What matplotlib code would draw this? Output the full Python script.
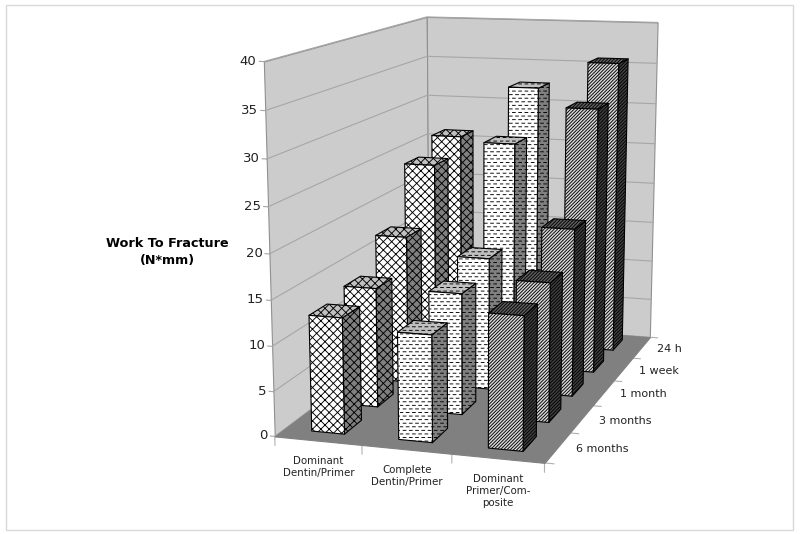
import numpy as np
import matplotlib
matplotlib.use("Agg")
import matplotlib.pyplot as plt
import matplotlib.hatch as mhatch
from matplotlib.patches import Rectangle
from matplotlib.path import Path
from mpl_toolkits.mplot3d.art3d import Poly3DCollection

categories = ["Dominant\nDentin/Primer", "Complete\nDentin/Primer", "Dominant\nPrimer/Com-\nposite"]
periods = ["6 months", "3 months", "1 month", "1 week", "24 h"]
z_ticks = [0, 5, 10, 15, 20, 25, 30, 35, 40]

# one row per period, front to back
dominant_dentin = [12.9, 13.7, 17.4, 24.1, 26.0]
complete_dentin = [11.8, 13.8, 15.5, 27.1, 32.4]
dominant_primer = [14.6, 15.7, 19.5, 31.6, 35.7]
values = [dominant_dentin, complete_dentin, dominant_primer]

hatches = ["xxxx", "O", "//////////"]
front_colors = ["white", "white", "#d8d8d8"]
top_colors = ["#c0c0c0", "#c0c0c0", "#606060"]
side_colors = ["#808080", "#808080", "#404040"]


class Dashes(mhatch.HatchPatternBase):
    """Staggered short dashes, hung on the 'O' hatch letter."""
    rows = 28
    cols = 16

    def __init__(self, hatch, density):
        self.num_vertices = self.rows * self.cols * 2 if "O" in hatch else 0

    def set_vertices_and_codes(self, vertices, codes):
        k = 0
        for r in range(self.rows):
            off = 0.5 / self.cols if r % 2 else 0.0
            for c in range(self.cols):
                x = c / self.cols + off
                y = (r + 0.5) / self.rows
                vertices[k] = (x, y)
                vertices[k + 1] = (x + 0.028, y)
                codes[k] = Path.MOVETO
                codes[k + 1] = Path.LINETO
                k += 2


mhatch._hatch_types = [t for t in mhatch._hatch_types if t is not mhatch.LargeCircles] + [Dashes]
plt.rcParams["hatch.linewidth"] = 0.65

W, H = 800, 534
fig = plt.figure(figsize=(8, 5.34), dpi=100)
# square 3d axes in pixels, the picture sits in the middle of it
ax = fig.add_axes([0, -133 / H, 1, W / H], projection="3d", computed_zorder=False)
ax.set_axis_off()
ax.set_xticks([])
ax.set_yticks([])
ax.set_zticks([])
ax.set_proj_type("ortho")  # lines get clipped to +-1 otherwise

# camera from the chart box corners: (category, period, value) -> pixel
nx, ny = len(categories), len(periods)
corners = [
    (0, 0, 0, 275, 434), (nx, 0, 0, 545, 465), (nx, ny, 0, 650, 335), (0, ny, 0, 428, 323),
    (0, 0, 40, 263, 62), (0, ny, 40, 428, 16), (nx, ny, 40, 657, 23),
]
rows = []
for x, y, z, px, py in corners:
    v = [x, y, z, 1]
    Y = H - py
    rows.append(v + [0, 0, 0, 0] + [-px * a for a in v])
    rows.append([0, 0, 0, 0] + v + [-Y * a for a in v])
P = np.linalg.svd(np.array(rows, dtype=float))[2][-1].reshape(3, 4)
if P[2, 3] < 0:
    P = -P
M = np.array([P[0], P[1], [0, 1, 0, 0], P[2]])
ax.get_proj = lambda: M
ax.viewLim.intervalx = (0, W)
ax.viewLim.intervaly = (-133, 667)


def face(verts, color, z, hatch=None, edge="k", lw=0.8):
    col = Poly3DCollection([verts], facecolors=color, edgecolors=edge, linewidths=lw, hatch=hatch, zorder=z)
    ax.add_collection3d(col)


def label_at(x, y, z, s, **kw):
    # plain 2d text at the projected spot, Text3D keeps its data position
    u = P @ np.array([x, y, z, 1.0])
    ax.text2D(u[0] / u[2], u[1] / u[2], s, transform=ax.transData, color="#222222", **kw)


# walls and floor
face([(0, 0, 0), (0, ny, 0), (0, ny, 40), (0, 0, 40)], "#cccccc", 1, edge="#909090")
face([(0, ny, 0), (nx, ny, 0), (nx, ny, 40), (0, ny, 40)], "#cccccc", 1, edge="#909090")

for t in z_ticks:
    ax.plot([0, 0, nx], [0, ny, ny], [t, t, t], color="#a6a6a6", lw=0.8, zorder=2)
    ax.plot([-0.05, 0], [0, 0], [t, t], color="#a6a6a6", lw=0.8, zorder=2)
    label_at(-0.08, 0, t, str(t), ha="right", va="center", fontsize=9.5)
for i in range(nx + 1):
    ax.plot([i, i], [0, 0], [0, -1], color="#b0b0b0", lw=0.8, zorder=2)
for j in range(ny + 1):
    ax.plot([nx, nx + 0.1], [j, j], [0, 0], color="#b0b0b0", lw=0.8, zorder=2)
face([(0, 0, 0), (nx, 0, 0), (nx, ny, 0), (0, ny, 0)], "#808080", 3, edge="#808080")

for i, label in enumerate(categories):
    label_at(i + 0.5, 0, -1.7, label, ha="center", va="top", fontsize=7.4, linespacing=1.25)
for j, label in enumerate(periods):
    label_at(nx + 0.2, j + 0.5, 0, label, ha="left", va="center", fontsize=8)

# bars, back row first and left to right so the overlaps come out right
bw, bd = 0.38, 0.5
order = 10
for j in range(ny - 1, -1, -1):
    for i in range(nx):
        h = values[i][j]
        x0, x1 = i + 0.5 - bw / 2, i + 0.5 + bw / 2
        y0, y1 = j + 0.5 - bd / 2 + 0.03, j + 0.5 + bd / 2 + 0.03
        face([(x1, y0, 0), (x1, y1, 0), (x1, y1, h), (x1, y0, h)], side_colors[i], order, hatches[i])
        face([(x0, y0, h), (x1, y0, h), (x1, y1, h), (x0, y1, h)], top_colors[i], order + 1, hatches[i])
        face([(x0, y0, 0), (x1, y0, 0), (x1, y0, h), (x0, y0, h)], front_colors[i], order + 2, hatches[i])
        order += 3

fig.text(167 / W, 1 - 252 / H, "Work To Fracture\n(N*mm)", ha="center", va="center",
         fontsize=9.2, fontweight="bold", linespacing=1.4)
fig.add_artist(Rectangle((6 / W, 1 - 530 / H), 787 / W, 525 / H, transform=fig.transFigure,
                         fill=False, edgecolor="#d9d9d9", lw=1))

fig.savefig("out.png", dpi=100)
